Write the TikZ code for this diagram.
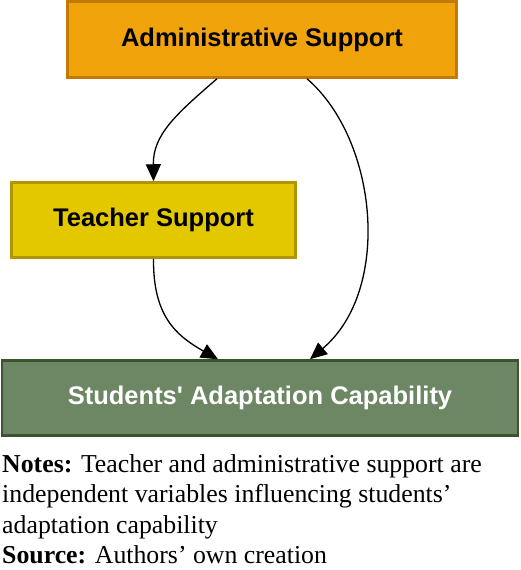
\documentclass[tikz,border=0pt]{standalone}
\usepackage{fontspec}
\setmainfont{Liberation Serif}
\setsansfont{Liberation Sans}
\usetikzlibrary{arrows.meta}
\definecolor{admfill}{HTML}{F0A30A}
\definecolor{admline}{HTML}{C27A05}
\definecolor{tchfill}{HTML}{E3C800}
\definecolor{tchline}{HTML}{B09500}
\definecolor{stdfill}{HTML}{6D8764}
\definecolor{stdline}{HTML}{3A5431}
\tikzset{
    factor/.style={draw, line width=2.5pt, inner sep=0pt, font=\sffamily\bfseries\fontsize{25.5}{30}\selectfont},
    link/.style={-{Triangle[length=17pt,width=15pt]}, line width=1.3pt}
}

\begin{document}
\begin{tikzpicture}[x=1pt,y=-1pt]
                    \useasboundingbox (0,0) rectangle (520,570);

                    \node[factor, fill=admfill, draw=admline, minimum width=389pt, minimum height=76pt] (adm) at (262,39.5) {Administrative Support};
                    \node[factor, fill=tchfill, draw=tchline, minimum width=284pt, minimum height=75pt] (tch) at (153.5,220) {Teacher Support};
                    \node[factor, fill=stdfill, draw=stdline, text=white, minimum width=516pt, minimum height=75pt] (std) at (260,398) {Students\textquotesingle{} Adaptation Capability};

                    \draw[link] ([xshift=-45pt]adm.south) .. controls (175,115) and (153,135) .. (tch.north);
                    \draw[link] ([xshift=45pt]adm.south) .. controls (378,140) and (392,290) .. ([xshift=50pt]std.north);
                    \draw[link] (tch.south) .. controls (153,315) and (175,335) .. ([xshift=-42pt]std.north);

                    \node[anchor=north west, align=left, inner sep=0pt, font=\fontsize{25.8}{30.6}\selectfont] (notes) at (2,454)
                        {\textbf{Notes:} Teacher and administrative support are\\
                        independent variables influencing students’\\
                        adaptation capability\\
                        \textbf{Source:} Authors’ own creation};
                \end{tikzpicture}
\end{document}
